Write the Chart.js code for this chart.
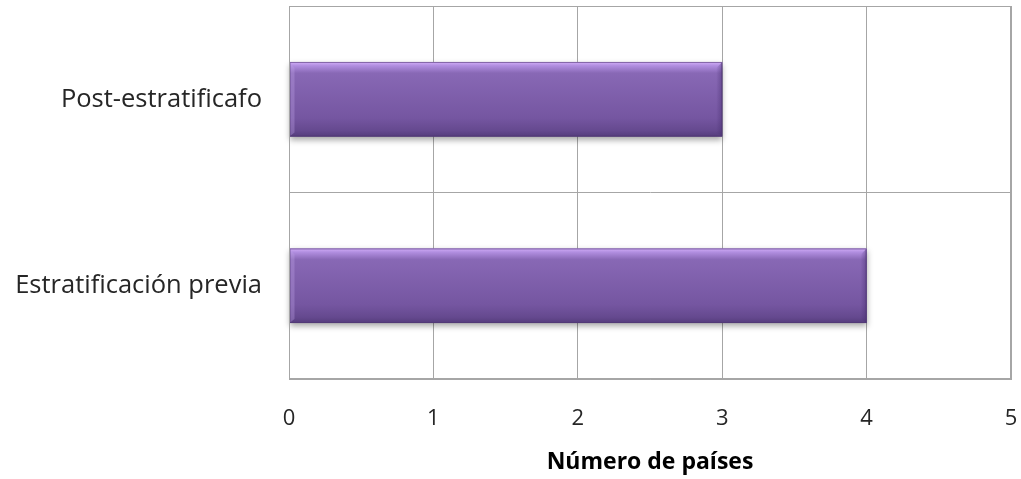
<!DOCTYPE html>
<html>
<head>
<meta charset="utf-8">
<script src="https://cdn.jsdelivr.net/npm/chart.js@4"></script>
<style>
  html, body { margin: 0; padding: 0; background: #ffffff; }
  #wrap { width: 1021px; height: 479px; }
</style>
</head>
<body>
<div id="wrap"><canvas id="chart" width="1021" height="479"></canvas></div>
<script>
// Chart data
const categories = ['Post-estratificafo', 'Estratificación previa'];
const countries = [3, 4];
const xTicks = [0, 1, 2, 3, 4, 5];
const xTitle = 'Número de países';

const FONT = '"Open Sans", "Noto Sans", sans-serif';
const GRID = '#a6a6a6';

// Bevelled purple bars, painted over the library's bar elements
const bevelBars = {
  id: 'bevelBars',
  afterDatasetsDraw(chart) {
    const ctx = chart.ctx;
    chart.getDatasetMeta(0).data.forEach(el => {
      const left = Math.min(el.base, el.x);
      const right = Math.max(el.base, el.x);
      const top = el.y - el.height / 2;
      const h = el.height;
      const w = right - left;

      ctx.save();
      ctx.shadowColor = 'rgba(0,0,0,0.35)';
      ctx.shadowBlur = 6;
      ctx.shadowOffsetY = 3;
      const g = ctx.createLinearGradient(0, top, 0, top + h);
      g.addColorStop(0, '#d3aef8');
      g.addColorStop(0.05, '#b18ee0');
      g.addColorStop(0.15, '#8868b5');
      g.addColorStop(0.75, '#7556a1');
      g.addColorStop(0.92, '#65498f');
      g.addColorStop(1, '#553c7c');
      ctx.fillStyle = g;
      ctx.fillRect(left, top, w, h);
      ctx.restore();

      // right bevel edge
      ctx.save();
      const gr = ctx.createLinearGradient(right - 6, 0, right, 0);
      gr.addColorStop(0, 'rgba(70,45,110,0)');
      gr.addColorStop(1, 'rgba(70,45,110,0.45)');
      ctx.fillStyle = gr;
      ctx.beginPath();
      ctx.moveTo(right - 6, top + 6);
      ctx.lineTo(right, top);
      ctx.lineTo(right, top + h);
      ctx.lineTo(right - 6, top + h - 4);
      ctx.closePath();
      ctx.fill();
      // left bevel edge
      ctx.fillStyle = 'rgba(190,160,230,0.35)';
      ctx.beginPath();
      ctx.moveTo(left, top);
      ctx.lineTo(left + 5, top + 6);
      ctx.lineTo(left + 5, top + h - 4);
      ctx.lineTo(left, top + h);
      ctx.closePath();
      ctx.fill();
      // thin outline
      ctx.strokeStyle = 'rgba(80,55,115,0.6)';
      ctx.lineWidth = 1;
      ctx.strokeRect(left + 0.5, top + 0.5, w - 1, h - 1);
      ctx.restore();
    });
  }
};

new Chart(document.getElementById('chart').getContext('2d'), {
  type: 'bar',
  data: {
    labels: categories,
    datasets: [{
      data: countries,
      backgroundColor: '#7b5ca8',
      borderWidth: 0,
      barPercentage: 0.5,
      categoryPercentage: 0.8
    }]
  },
  options: {
    indexAxis: 'y',
    responsive: false,
    animation: false,
    layout: { padding: { top: 6, right: 10, left: 0, bottom: 0 } },
    plugins: {
      legend: { display: false },
      tooltip: { enabled: false }
    },
    scales: {
      x: {
        min: 0,
        max: 5,
        afterBuildTicks: s => { s.ticks = xTicks.map(v => ({ value: v })); },
        afterFit: s => { s.height = 100; s.paddingLeft = 0; s.paddingRight = 0; },
        grid: { color: GRID, lineWidth: 1, drawTicks: false },
        border: { color: GRID },
        ticks: { color: '#262626', padding: 27, font: { family: FONT, size: 22 } },
        title: {
          display: true,
          text: xTitle,
          color: '#000000',
          padding: { top: 4, bottom: 3 },
          font: { family: FONT, size: 23, weight: 'bold' }
        }
      },
      y: {
        afterFit: s => { s.width = 289; s.paddingTop = 0; s.paddingBottom = 0; },
        grid: { color: GRID, lineWidth: 1, drawTicks: false },
        border: { color: GRID },
        ticks: { color: '#262626', padding: 27, font: { family: FONT, size: 25.5 } }
      }
    }
  },
  plugins: [bevelBars, {
    id: 'frame',
    afterDraw(chart) {
      const a = chart.chartArea, ctx = chart.ctx;
      ctx.save();
      ctx.strokeStyle = GRID;
      ctx.lineWidth = 1;
      ctx.strokeRect(Math.round(a.left) + 0.5, Math.round(a.top) + 0.5,
        Math.round(a.right - a.left) - 1, Math.round(a.bottom - a.top) - 1);
      ctx.restore();
    }
  }]
});
</script>
</body>
</html>
